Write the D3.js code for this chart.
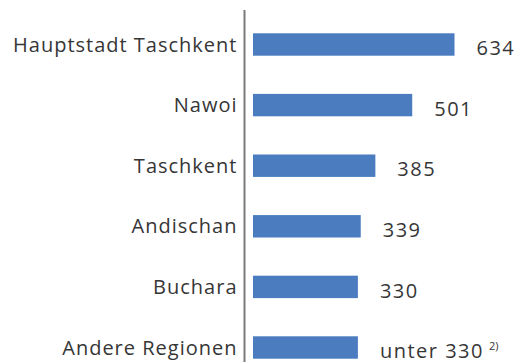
<!DOCTYPE html>
<html>
<head>
<meta charset="utf-8">
<script src="https://cdn.jsdelivr.net/npm/d3@7"></script>
<style>
  html, body { margin: 0; padding: 0; background: #fff; }
  svg text { font-family: "Open Sans", "DejaVu Sans", sans-serif; fill: #363636; }
</style>
</head>
<body>
<svg id="chart" width="523" height="363"></svg>
<script>
// Regions and their values (bars); the last entry is an upper bound
const regions = ["Hauptstadt Taschkent", "Nawoi", "Taschkent", "Andischan", "Buchara", "Andere Regionen"];
const values = [634, 501, 385, 339, 330, 330];
const valueLabels = ["634", "501", "385", "339", "330", "unter 330"];
const footnotes = ["", "", "", "", "", "2)"];

const svg = d3.select("#chart");
const x0 = 253;

const x = d3.scaleLinear().domain([0, 634]).range([x0, 454.5]);
const y = d3.scaleBand().domain(regions).range([14.2, 377.8])
  .paddingInner(0.63).paddingOuter(0.315);

// vertical axis line
svg.append("line")
  .attr("x1", 244.5).attr("x2", 244.5)
  .attr("y1", 10).attr("y2", 362)
  .attr("stroke", "#7a7a7a").attr("stroke-width", 2);

const rows = svg.selectAll("g.row").data(regions).join("g").attr("class", "row");

rows.append("rect")
  .attr("x", x(0))
  .attr("y", d => y(d))
  .attr("width", (d, i) => x(values[i]) - x(0))
  .attr("height", y.bandwidth())
  .attr("fill", "#4a7cbf");

rows.append("text")
  .attr("x", 237.5)
  .attr("y", d => y(d) + y.bandwidth() / 2 + 7)
  .attr("text-anchor", "end")
  .attr("font-size", 20)
  .attr("letter-spacing", 1)
  .text(d => d);

const vl = rows.append("text")
  .attr("x", (d, i) => x(values[i]) + 22)
  .attr("y", d => y(d) + y.bandwidth() - 0.5)
  .attr("font-size", 20)
  .attr("letter-spacing", 1.5)
  .text((d, i) => valueLabels[i]);

vl.filter((d, i) => footnotes[i])
  .append("tspan")
  .attr("dx", 5)
  .attr("dy", -8)
  .attr("font-size", 11)
  .attr("letter-spacing", 0)
  .text(d => footnotes[regions.indexOf(d)]);
</script>
</body>
</html>
